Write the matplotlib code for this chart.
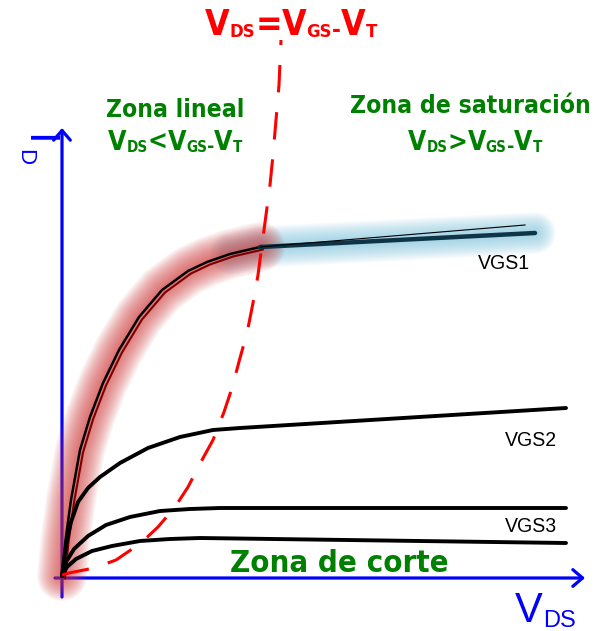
import os
import matplotlib
matplotlib.use('Agg')
import matplotlib.pyplot as plt
import numpy as np
from matplotlib import font_manager
from matplotlib.font_manager import FontProperties
from matplotlib.transforms import IdentityTransform

# ---------------- data (V_DS in V, I_D in arbitrary units) ----------------
vgs1_x = [0.0, 0.07, 0.18, 0.36, 0.56, 0.82, 1.14, 1.54, 2.00, 2.52, 2.90, 3.36, 3.96, 9.46]
vgs1_y = [0.0, 0.72, 1.52, 2.52, 3.18, 3.86, 4.52, 5.18, 5.72, 6.10, 6.28, 6.44, 6.58, 6.86]
vgs1_thin_x = [3.96, 9.26]
vgs1_thin_y = [6.58, 7.02]

vgs2_x = [0.0, 0.04, 0.10, 0.18, 0.32, 0.52, 0.76, 1.16, 1.72, 2.36, 3.02, 3.56, 10.08]
vgs2_y = [0.0, 0.32, 0.72, 1.08, 1.48, 1.76, 1.98, 2.26, 2.56, 2.78, 2.92, 2.96, 3.36]

vgs3_x = [0.0, 0.08, 0.24, 0.52, 0.88, 1.36, 1.96, 2.56, 3.16, 10.08]
vgs3_y = [0.0, 0.28, 0.54, 0.80, 1.02, 1.18, 1.30, 1.34, 1.36, 1.36]

vgs4_x = [0.0, 0.10, 0.28, 0.60, 1.00, 1.56, 2.16, 2.76, 10.08]
vgs4_y = [0.0, 0.18, 0.34, 0.50, 0.60, 0.70, 0.74, 0.76, 0.66]

# locus V_DS = V_GS - V_T
sat_x = [0.0, 0.14, 0.64, 1.08, 1.58, 1.92, 2.26, 2.52, 2.80, 3.02, 3.24, 3.40, 3.56, 3.70,
         3.82, 3.92, 4.00, 4.08, 4.16, 4.22, 4.28, 4.34, 4.38]
sat_y = [0.02, 0.06, 0.16, 0.32, 0.66, 0.98, 1.38, 1.78, 2.32, 2.72, 3.28, 3.76, 4.36, 4.86,
         5.46, 6.02, 6.62, 7.22, 7.82, 8.42, 9.12, 9.82, 10.72]

curve_labels = ['VGS1', 'VGS2', 'VGS3']
knee_index = 12  # index in vgs1 where saturation begins

# ---------------- fonts ----------------
def find_font(patterns):
    files = [f.fname for f in font_manager.fontManager.ttflist]
    for p in patterns:
        for fn in files:
            if os.path.basename(fn).lower().replace(' ', '').startswith(p):
                return fn
    return None

narrow_bold_file = find_font(['liberationsansnarrow-bold.', 'arialnarrowbold', 'arialnb',
                              'dejavusanscondensed-bold.'])
narrow_reg_file = find_font(['liberationsansnarrow-regular.', 'arialn.',
                             'dejavusanscondensed.'])

def fprop(bold, narrow, size):
    if narrow and bold and narrow_bold_file:
        fp = FontProperties(fname=narrow_bold_file)
    elif narrow and not bold and narrow_reg_file:
        fp = FontProperties(fname=narrow_reg_file)
    else:
        fp = FontProperties(family='Liberation Sans', weight='bold' if bold else 'normal')
    fp.set_size(size)
    return fp

GREEN = '#008000'
RED = '#ff0000'
BLUE = '#0000ff'

fig = plt.figure(figsize=(5.99, 6.31), dpi=100)
ax = fig.add_axes([0, 0, 1, 1])
ax.set_xlim(-1.24, 10.74)
ax.set_ylim(-1.1, 11.52)
ax.axis('off')

# ---------------- axes arrows ----------------
arrow_kw = dict(arrowstyle='->,head_length=0.7,head_width=0.6', color=BLUE, lw=2.3,
                shrinkA=0, shrinkB=0)
ax.annotate('', xy=(10.46, -0.04), xytext=(-0.14, -0.04), arrowprops=arrow_kw, zorder=1)
ax.annotate('', xy=(0.0, 8.96), xytext=(0.0, -0.42), arrowprops=arrow_kw, zorder=1)

# ---------------- glows ----------------
def glow(x, y, color, maxw, n, alpha, z):
    for i in range(n):
        w = maxw * (1 - i / n)
        ax.plot(x, y, color=color, lw=w, alpha=alpha, solid_capstyle='round',
                solid_joinstyle='round', zorder=z)

lin_x = vgs1_x[:knee_index + 1]
lin_y = vgs1_y[:knee_index + 1]
sat1_x = vgs1_x[knee_index - 1:]
sat1_y = vgs1_y[knee_index - 1:]
glow(sat1_x, sat1_y, '#80c6de', 30, 18, 0.06, 2)
glow(lin_x, lin_y, '#d43a3a', 36, 20, 0.055, 2.1)

# ---------------- curves ----------------
ax.plot(np.array(lin_x) + 0.06, np.array(lin_y) - 0.05, color='#7a0000', lw=1.5, zorder=3,
        solid_capstyle='round')
ax.plot(vgs1_x, vgs1_y, color='black', lw=1.8, zorder=3.2, solid_capstyle='round',
        solid_joinstyle='round')
ax.plot(sat1_x[1:], sat1_y[1:], color='#0d3547', lw=3.2, zorder=3.3, solid_capstyle='round')
ax.plot(vgs1_thin_x, vgs1_thin_y, color='black', lw=0.8, zorder=3.4)
for xs, ys in [(vgs2_x, vgs2_y), (vgs3_x, vgs3_y), (vgs4_x, vgs4_y)]:
    ax.plot(xs, ys, color='black', lw=2.8, zorder=3, solid_capstyle='round',
            solid_joinstyle='round')

ax.plot(sat_x, sat_y, color=RED, lw=2.2, linestyle=(0, (9, 6.5)), zorder=4,
        dash_capstyle='butt')

# ---------------- rich text helper ----------------
renderer = fig.canvas.get_renderer()
H = fig.bbox.height

def rich(xp, bp, parts, color, bold, narrow, align='center', width=None):
    def build(scale):
        items, total = [], 0
        for s, size, dy in parts:
            t = fig.text(0, 0, s, fontproperties=fprop(bold, narrow, size * scale),
                         color=color, transform=IdentityTransform(), ha='left',
                         va='baseline', zorder=6)
            w = t.get_window_extent(renderer).width
            items.append((t, dy * scale, w))
            total += w
        return items, total
    items, total = build(1.0)
    if width is not None and abs(total - width) > 2:
        sc = width / total
        for t, _, _ in items:
            t.remove()
        items, total = build(sc)
    x0 = xp - total / 2 if align == 'center' else xp
    for t, dy, w in items:
        t.set_position((x0, H - bp - dy))
        x0 += w

def cond(sign, xp, bp, big, sub, width):
    rich(xp, bp, [('V', big, 0), ('DS', sub, 2), (sign, big, 0), ('V', big, 0),
                  ('GS', sub, 2), ('-', sub * 1.3, 2), ('V', big, 0), ('T', sub, 2)],
         GREEN if sign != '=' else RED, True, True, width=width)

cond('=', 291, 35, 25, 13, 172)
rich(175.5, 117, [('Zona lineal', 19.5, 0)], GREEN, True, True, width=137)
cond('<', 175, 150, 18.5, 10.5, 135)
rich(470, 113, [('Zona de saturación', 21, 0)], GREEN, True, True, width=240)
cond('>', 475, 150, 18.5, 10.5, 134)
rich(339, 572, [('Zona de corte', 24, 0)], GREEN, True, True, width=218)

for lab, (xp, bp) in zip(curve_labels, [(478, 269), (505, 446), (505, 532)]):
    rich(xp, bp, [(lab, 13, 0)], 'black', False, False, align='left', width=52)

# axis labels
rich(515, 622, [('V', 30, 0), ('DS', 17, 5)], BLUE, False, False, align='left')
fig.text(37.5, H - 140, 'I', fontsize=30, color=BLUE, family='Liberation Sans', rotation=-90,
         ha='center', va='center', transform=IdentityTransform())
fig.text(25, H - 157.5, 'D', fontsize=16, color=BLUE, family='Liberation Sans', rotation=-90,
         ha='center', va='center', transform=IdentityTransform())

fig.savefig('out.png', dpi=100)
